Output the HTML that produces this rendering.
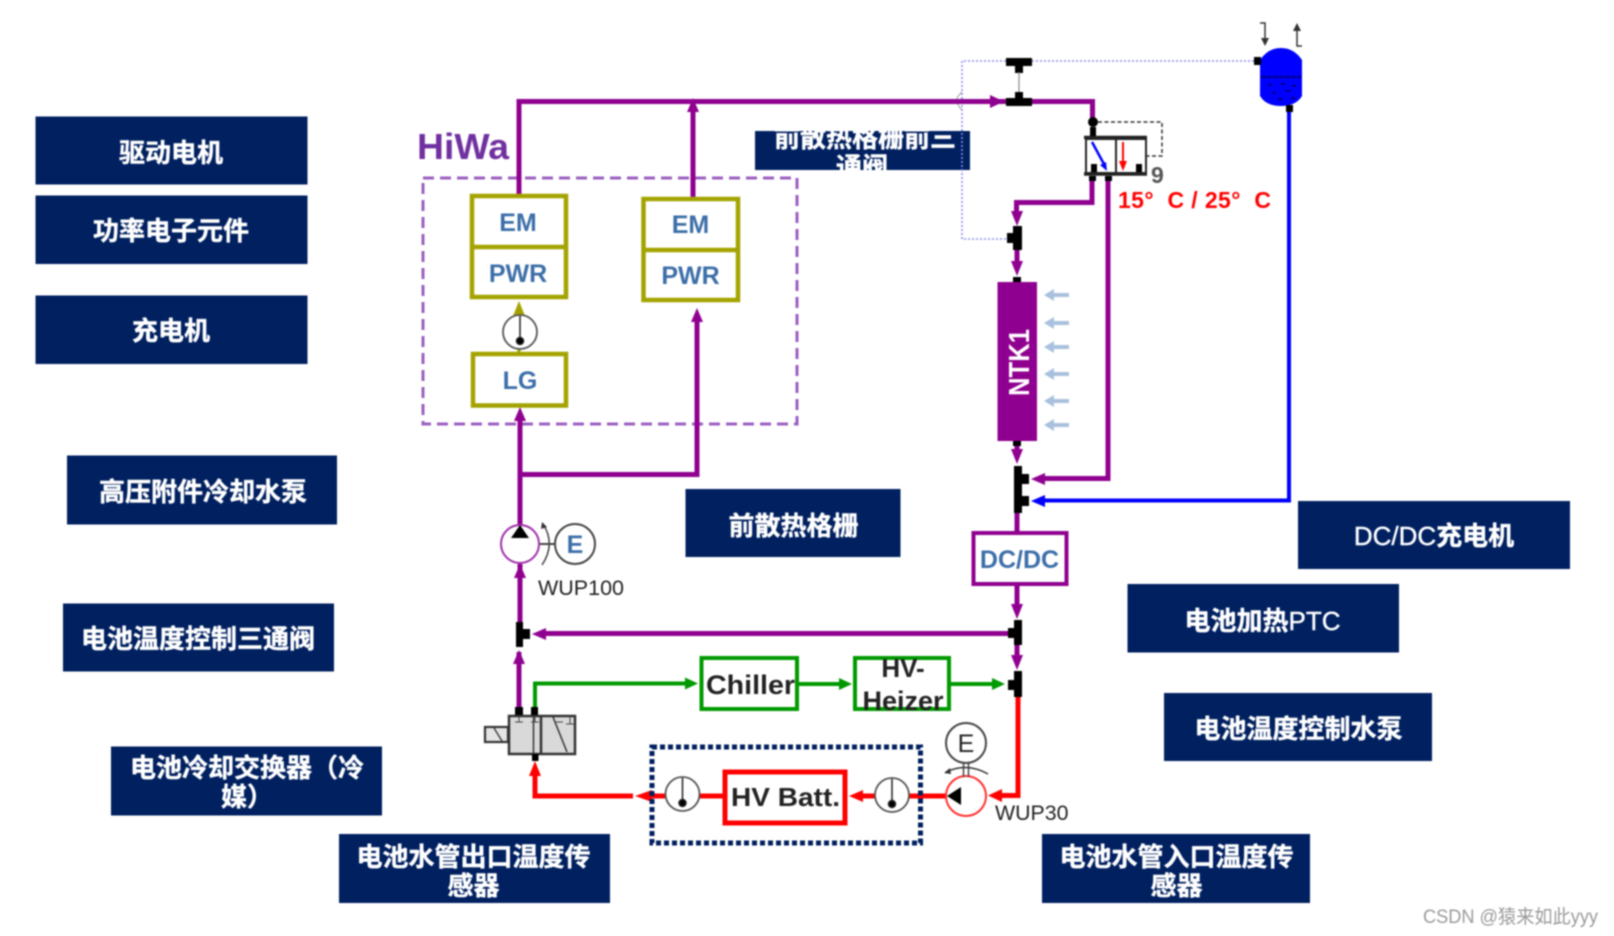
<!DOCTYPE html>
<html><head><meta charset="utf-8">
<style>
html,body{margin:0;padding:0;background:#fff;width:1614px;height:936px;overflow:hidden}
svg{display:block;filter:blur(0.8px)}
.b{fill:#002060}
.t{font-family:"Liberation Sans","Noto Sans CJK SC",sans-serif;font-weight:700;font-size:26px;fill:#fff;text-anchor:middle;stroke:#fff;stroke-width:.4px}
.l{font-weight:400}
.c{font-family:"Liberation Sans",sans-serif;font-weight:700;text-anchor:middle}
</style></head><body>
<svg width="1614" height="936" viewBox="0 0 1614 936" xmlns="http://www.w3.org/2000/svg">
<defs>
<clipPath id="cl"><rect x="755" y="131" width="215" height="39"/></clipPath>
</defs>
<rect width="1614" height="936" fill="#fff"/>

<!-- label boxes -->
<rect class="b" x="35.500" y="116.500" width="272" height="68"/>
<text class="t" x="171" y="162">驱动电机</text>
<rect class="b" x="35.500" y="195.500" width="272" height="68.500"/>
<text class="t" x="171" y="240">功率电子元件</text>
<rect class="b" x="35.500" y="295.500" width="272" height="68.500"/>
<text class="t" x="171" y="340">充电机</text>
<rect class="b" x="67" y="455.500" width="270" height="69"/>
<text class="t" x="203" y="501">高压附件冷却水泵</text>
<rect class="b" x="63" y="603.500" width="271" height="68"/>
<text class="t" x="198" y="648">电池温度控制三通阀</text>
<rect class="b" x="111" y="746.500" width="271" height="69"/>
<text class="t" x="247" y="777">电池冷却交换器（冷</text>
<text class="t" x="247" y="806">媒）</text>
<rect class="b" x="339" y="834" width="271" height="69"/>
<text class="t" x="473.500" y="866">电池水管出口温度传</text>
<text class="t" x="473.500" y="895">感器</text>
<rect class="b" x="685.500" y="489" width="215" height="68"/>
<text class="t" x="793.500" y="535">前散热格栅</text>
<rect class="b" x="1298" y="501" width="272" height="68"/>
<text class="t" x="1434" y="545"><tspan class="l">DC/DC</tspan>充电机</text>
<rect class="b" x="1127.500" y="584" width="271.500" height="68.500"/>
<text class="t" x="1262.500" y="630">电池加热<tspan class="l">PTC</tspan></text>
<rect class="b" x="1164" y="693" width="268" height="68"/>
<text class="t" x="1298.500" y="738">电池温度控制水泵</text>
<rect class="b" x="1042" y="834" width="268" height="69"/>
<text class="t" x="1176.500" y="866">电池水管入口温度传</text>
<text class="t" x="1176.500" y="895">感器</text>
<rect class="b" x="755" y="131" width="215" height="39"/>
<g clip-path="url(#cl)">
<text class="t" x="865" y="147">前散热格栅前三</text>
<text class="t" x="862" y="176">通阀</text>
</g>

<!-- HiWa -->
<text x="417" y="159" font-family="'Liberation Sans',sans-serif" font-weight="700" font-size="36" fill="#7030a0" textLength="92" lengthAdjust="spacingAndGlyphs">HiWa</text>
<rect x="423" y="178" width="374" height="246" fill="none" stroke="#9b5fc0" stroke-width="3" stroke-dasharray="11 6"/>

<!-- lavender dotted pipe -->
<path d="M1254 61H962V239H1007" fill="none" stroke="#8c8cf0" stroke-width="1.600" stroke-dasharray="2 2"/>
<path d="M962 92Q956 97 957 101Q957 105 962 110" fill="none" stroke="#999" stroke-width="1"/>

<!-- purple pipes -->
<g fill="none" stroke="#900090" stroke-width="5">
<path d="M519 194V101.500H1092.500V125"/>
<path d="M693 197V102"/>
<path d="M520 416V525"/>
<path d="M520 474.500H697V318"/>
<path d="M520 564V622"/>
<path d="M519 707V652"/>
<path d="M542 633.500H1008"/>
<path d="M1092 180V202.500H1016.500V216"/>
<path d="M1017 250V268"/>
<path d="M1017 445V458"/>
<path d="M1017 513V531"/>
<path d="M1017 586V610"/>
<path d="M1017 645V660"/>
<path d="M1108 180V478.500H1042"/>
</g>
<g fill="#900090">
<path d="M693 98l6 14h-12z"/>
<path d="M1004 101.500l-14 6.500v-13z"/>
<path d="M697 308l6 14h-12z"/>
<path d="M520 407l6 14h-12z"/>
<path d="M520 564l6 14h-12z"/>
<path d="M519 650l6 14h-12z"/>
<path d="M532 634l14 -6v12z"/>
<path d="M1017 226l-6 -15h12z"/>
<path d="M1017 276l-6 -15h12z"/>
<path d="M1017 464l-6 -15h12z"/>
<path d="M1017 619l-6 -15h12z"/>
<path d="M1017 670l-6 -15h12z"/>
<path d="M1031 479l14 -6v12z"/>
</g>

<!-- blue pipe -->
<path d="M1289 108V500.500H1042" fill="none" stroke="#0000ff" stroke-width="4"/>
<polygon points="1031,501 1045,495 1045,507" fill="#0000ff"/>

<!-- green pipes -->
<g fill="none" stroke="#009900" stroke-width="4">
<path d="M535 707V683.500H688"/>
<path d="M798 684H842"/>
<path d="M950 684H995"/>
</g>
<g fill="#009900">
<polygon points="698,683.500 685,677.500 685,689.500"/>
<polygon points="852,684 839,678 839,690"/>
<polygon points="1005,684 992,678 992,690"/>
</g>

<!-- red pipes -->
<g fill="none" stroke="#ff0000" stroke-width="5">
<path d="M1018 697V795.500H998"/>
<path d="M946 796H906"/>
<path d="M875 796H860"/>
<path d="M699 796H723"/>
<path d="M665 796H650"/>
<path d="M633 796H535V772"/>
</g>
<g fill="#ff0000">
<polygon points="988,795.500 1002,789 1002,802"/>
<polygon points="849,796 863,790 863,802"/>
<polygon points="635,796 652,790 652,802"/>
<polygon points="535,761 541,776 529,776"/>
</g>

<!-- olive boxes -->
<g fill="#fff" stroke="#a3a300" stroke-width="4.500">
<rect x="472" y="196" width="94" height="101"/>
<path d="M472 247H566" fill="none"/>
<rect x="643.500" y="199" width="94.500" height="101"/>
<path d="M643.500 250H738" fill="none"/>
<rect x="473" y="354" width="93" height="51.500"/>
</g>
<g class="c" font-size="25" fill="#3c6ea8" font-family="'Liberation Sans',sans-serif" font-weight="700" text-anchor="middle">
<text x="518" y="231">EM</text>
<text x="518" y="282">PWR</text>
<text x="690.500" y="233">EM</text>
<text x="690.500" y="284">PWR</text>
<text x="520" y="389">LG</text>
</g>

<!-- thermometer + olive arrow -->
<path d="M519 311V315M519 349V354" stroke="#a3a300" stroke-width="3"/>
<polygon points="519,301 525,316 513,316" fill="#a3a300"/>
<g fill="#fff" stroke="#555" stroke-width="1.800">
<circle cx="520" cy="332" r="17"/>
<circle cx="892" cy="795" r="17"/>
<circle cx="682.500" cy="794" r="17"/>
</g>
<g stroke="#222" stroke-width="1.500" fill="#000">
<path d="M520 316V340M892 779V803M682.500 778V802"/>
<circle cx="520" cy="341" r="3.500"/>
<circle cx="892" cy="804" r="3.500"/>
<circle cx="682.500" cy="803" r="3.500"/>
</g>

<!-- T valves -->
<g fill="#000">
<rect x="1006" y="58" width="26" height="8"/><rect x="1015" y="66" width="8" height="7"/>
<rect x="1006" y="98" width="26" height="8"/><rect x="1015" y="92" width="8" height="7"/>
<rect x="1013" y="226" width="9" height="24"/><rect x="1007" y="233" width="7" height="10"/>
<rect x="1014" y="466" width="8" height="47"/><rect x="1021" y="474" width="8" height="10"/><rect x="1021" y="496" width="8" height="10"/>
<rect x="1014" y="620" width="8" height="25"/><rect x="1008" y="628" width="7" height="10"/>
<rect x="1014" y="671" width="8" height="26"/><rect x="1008" y="680" width="7" height="10"/>
<rect x="516" y="622" width="7" height="25"/><rect x="522" y="629" width="8" height="10"/>
<rect x="1013" y="277" width="8" height="5"/>
<rect x="1013" y="441" width="8" height="5"/>
</g>
<path d="M1019 72V92" stroke="#888" stroke-width="1.200"/>

<!-- NTK1 -->
<rect x="997.500" y="282" width="39.500" height="159" fill="#900090"/>
<text transform="translate(1029 396) rotate(-90)" x="0" y="0" font-family="'Liberation Sans',sans-serif" font-weight="700" font-size="29" fill="#fff" textLength="67" lengthAdjust="spacingAndGlyphs">NTK1</text>
<g fill="#a9c1de">
<path d="M1044 295l10-6v4h15v4h-15v4z"/>
<path d="M1044 323l10-6v4h15v4h-15v4z"/>
<path d="M1044 347l10-6v4h15v4h-15v4z"/>
<path d="M1044 374l10-6v4h15v4h-15v4z"/>
<path d="M1044 401l10-6v4h15v4h-15v4z"/>
<path d="M1044 425l10-6v4h15v4h-15v4z"/>
</g>

<!-- thermostat valve -->
<rect x="1086" y="139" width="60" height="34" fill="#fff" stroke="#222" stroke-width="2"/>
<path d="M1084 137.500H1147M1084 174H1147" stroke="#222" stroke-width="3.500"/>
<path d="M1116 139V173" stroke="#222" stroke-width="2"/>
<path d="M1092 142L1105 166" stroke="#0000ff" stroke-width="2.500"/>
<polygon points="1107,171 1100,165 1106,162" fill="#0000ff"/>
<path d="M1123 142V164" stroke="#ff0000" stroke-width="2"/>
<polygon points="1123,171 1119,161 1127,161" fill="#ff0000"/>
<g fill="#000">
<circle cx="1093" cy="122" r="5"/>
<rect x="1090" y="127" width="6" height="9"/>
<rect x="1091" y="164" width="6" height="8"/>
<rect x="1136" y="164" width="6" height="8"/>
<rect x="1089" y="176" width="7" height="5"/>
<rect x="1105" y="176" width="7" height="5"/>
</g>
<path d="M1098 122H1162V156H1147" fill="none" stroke="#333" stroke-width="1.500" stroke-dasharray="4 2.500"/>
<text x="1151" y="183" font-family="'Liberation Sans',sans-serif" font-weight="700" font-size="23" fill="#555">9</text>
<text x="1118" y="208" font-family="'Liberation Sans',sans-serif" font-weight="700" font-size="23" fill="#ff0000" textLength="153">15°&#160;&#160;C / 25°&#160;&#160;C</text>

<!-- tank -->
<path d="M1260 60Q1268 48 1281 48Q1294 48 1302 60V96Q1296 106 1281 106Q1266 106 1260 96Z" fill="#0000ff"/>
<path d="M1261 77H1301" stroke="#00007a" stroke-width="2" stroke-dasharray="5 1"/>
<g fill="#00007a">
<rect x="1268" y="84" width="4" height="2"/><rect x="1281" y="83" width="4" height="2"/><rect x="1292" y="85" width="4" height="2"/>
<rect x="1272" y="92" width="4" height="2"/><rect x="1286" y="90" width="4" height="2"/><rect x="1278" y="98" width="4" height="2"/><rect x="1291" y="97" width="4" height="2"/>
</g>
<rect x="1254" y="57" width="7" height="8" fill="#000"/>
<rect x="1286" y="105" width="7" height="7" fill="#000"/>
<g stroke="#333" stroke-width="1.500" fill="none">
<path d="M1260 23H1265V42"/>
<path d="M1302 46H1297V27"/>
</g>
<polygon points="1265,46 1261,38 1269,38" fill="#333"/>
<polygon points="1297,23 1293,31 1301,31" fill="#333"/>

<!-- DC/DC -->
<rect x="973.500" y="533" width="93" height="51" fill="#fff" stroke="#900090" stroke-width="4"/>
<text x="1019.500" y="568" font-family="'Liberation Sans',sans-serif" font-weight="700" font-size="25" fill="#3c6ea8" text-anchor="middle">DC/DC</text>

<!-- pump WUP100 -->
<circle cx="520" cy="544" r="19" fill="#fff" stroke="#a030a8" stroke-width="2"/>
<polygon points="520,525 529,538 511,538" fill="#000"/>
<circle cx="575" cy="544" r="20" fill="#fff" stroke="#444" stroke-width="2"/>
<text x="575" y="553" font-family="'Liberation Sans',sans-serif" font-weight="700" font-size="25" fill="#3c6ea8" text-anchor="middle">E</text>
<path d="M540 544H555" stroke="#444" stroke-width="2"/>
<path d="M543 524Q556 544 542 565" fill="none" stroke="#444" stroke-width="1.500"/>
<polygon points="542,522 547,527 541,529" fill="#333"/>
<text x="538" y="595" font-family="'Liberation Sans',sans-serif" font-size="21" fill="#222" textLength="86" lengthAdjust="spacingAndGlyphs">WUP100</text>

<!-- valve bottom-left -->
<rect x="485" y="727" width="23" height="15" fill="#e4e4e4" stroke="#333" stroke-width="2.200"/>
<path d="M494 728L502 741" stroke="#444" stroke-width="1.500"/>
<rect x="509" y="716" width="66" height="38" fill="#d9d9d9" stroke="#333" stroke-width="2.500"/>
<path d="M541 716V754" stroke="#333" stroke-width="2.500"/>
<path d="M533.500 716V754" stroke="#333" stroke-width="1.500"/>
<path d="M553 717L567 752" stroke="#333" stroke-width="1.500"/>
<path d="M515 722H523M519 717V722M531 722H539M535 717V722M555 722H563M566 724H574M570 717V724" stroke="#444" stroke-width="1"/>
<g fill="#000">
<rect x="515" y="707" width="8" height="8"/>
<rect x="531" y="707" width="7" height="8"/>
<rect x="532" y="754" width="6.500" height="7"/>
</g>

<!-- Chiller, HV-Heizer -->
<rect x="701.500" y="658" width="95.500" height="51" fill="#fff" stroke="#009900" stroke-width="4"/>
<text x="750.500" y="694" class="c" font-size="27" fill="#222" textLength="89" lengthAdjust="spacingAndGlyphs">Chiller</text>
<rect x="855" y="658" width="94" height="51" fill="#fff" stroke="#009900" stroke-width="4"/>
<text x="903" y="677" class="c" font-size="26" fill="#222">HV-</text>
<text x="903" y="710" class="c" font-size="27" fill="#222">Heizer</text>

<!-- HV Batt -->
<rect x="652" y="747" width="268.500" height="96" fill="none" stroke="#002060" stroke-width="5" stroke-dasharray="5 3"/>
<rect x="725" y="772" width="120" height="51" fill="#fff" stroke="#ff0000" stroke-width="5"/>
<text x="731" y="806" font-family="'Liberation Sans',sans-serif" font-weight="700" font-size="26" fill="#222" textLength="109" lengthAdjust="spacingAndGlyphs">HV Batt.</text>

<!-- pump WUP30 -->
<circle cx="966" cy="796" r="20" fill="#fff" stroke="#ff3030" stroke-width="2"/>
<polygon points="947,796 961,787 961,805" fill="#000"/>
<circle cx="966" cy="743" r="20" fill="#fff" stroke="#444" stroke-width="2"/>
<text x="966" y="752" font-family="'Liberation Sans',sans-serif" font-size="25" fill="#222" text-anchor="middle">E</text>
<path d="M963.500 763V777M968.500 763V777" stroke="#444" stroke-width="1.500"/>
<path d="M946 772Q967 762 988 774" fill="none" stroke="#333" stroke-width="1.500"/>
<polygon points="944,773 950,768 951,774" fill="#333"/>
<text x="995" y="820" font-family="'Liberation Sans',sans-serif" font-size="21" fill="#222" textLength="73.500" lengthAdjust="spacingAndGlyphs">WUP30</text>

<!-- watermark -->
<text x="1423" y="923" font-family="'Liberation Sans','Noto Sans CJK SC',sans-serif" font-size="19" fill="#9a9a9a" textLength="175" lengthAdjust="spacingAndGlyphs">CSDN @猿来如此yyy</text>
</svg>
</body></html>
